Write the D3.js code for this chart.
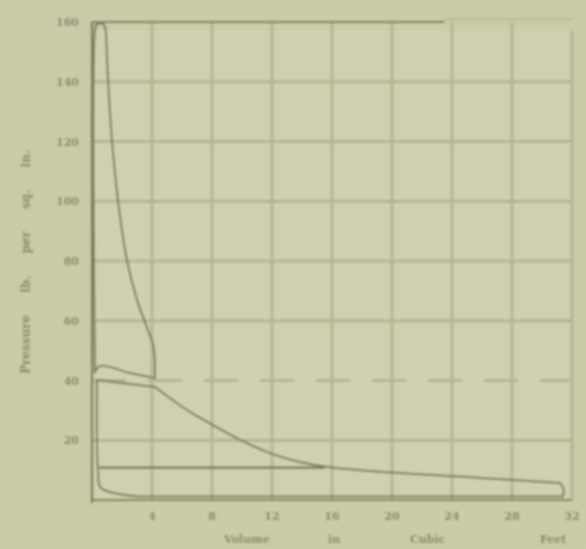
<!DOCTYPE html>
<html>
<head>
<meta charset="utf-8">
<script src="https://cdn.jsdelivr.net/npm/d3@7"></script>
<style>
  html, body { margin: 0; padding: 0; background: #cdcdab; }
  svg { display: block; }
</style>
</head>
<body>
<svg id="chart" width="586" height="549"></svg>
<script>
// Combined indicator card: high- and low-pressure cylinders
const pressureTicks = [20, 40, 60, 80, 100, 120, 140, 160];
const volumeTicks = [4, 8, 12, 16, 20, 24, 28, 32];

// High-pressure cylinder card (volume cu. ft, pressure lb/sq in)
const hpVolume   = [0.2, 0.2, 0.33, 0.73, 0.93, 1.07, 1.33, 1.73, 2.33, 3.0, 3.73, 4.07, 4.2, 4.2, 2.53, 0.53, 0.2];
const hpPressure = [42.8, 157, 159.3, 159.3, 157, 140.6, 120.5, 100.4, 80.3, 67, 56.9, 51.9, 46.9, 40.8, 42.5, 44.9, 42.8];
// corners where the card's line changes direction sharply
const hpCorners = [0, 4, 12, 13, 16];

// Low-pressure cylinder card
const lpVolume   = [0.33, 4.2, 5.2, 6.53, 8.07, 9.87, 11.87, 13.87, 15.87, 20.5, 25.9, 31.2, 31.45, 31.4, 20, 10, 3.0, 0.6, 0.4, 0.33];
const lpPressure = [40.2, 37.8, 34.1, 29.5, 25.1, 20.1, 15.7, 12.7, 11.0, 9.0, 7.4, 5.7, 3.4, 1.2, 1.2, 1.2, 1.2, 4.0, 10, 40.2];
const lpCorners = [0, 1, 11, 13, 16, 19];

// Atmospheric line
const atmVolume   = [0.5, 15.5];
const atmPressure = [10.8, 10.8];

const svg = d3.select("#chart");
const x = d3.scaleLinear().domain([0, 32]).range([92, 572]);
const y = d3.scaleLinear().domain([0, 160]).range([500, 22]);

const ink = "#7a7a5c";
const gridInk = "#b5b591";
const textInk = "#86866a";

svg.append("defs").append("filter").attr("id", "soft")
  .append("feGaussianBlur").attr("stdDeviation", 1.2);

const paper = svg.append("g").attr("filter", "url(#soft)");

paper.append("rect").attr("width", 586).attr("height", 549).attr("fill", "#cbcba8");
paper.append("rect").attr("x", 90).attr("y", 30).attr("width", 480).attr("height", 470)
  .attr("fill", "#d6d6b7").attr("opacity", 0.55);

// Grid
const grid = paper.append("g");
grid.selectAll("line.v").data(volumeTicks.slice(0, -1)).join("line")
  .attr("x1", d => x(d)).attr("x2", d => x(d))
  .attr("y1", y(160)).attr("y2", y(0))
  .attr("stroke", gridInk).attr("stroke-width", 3);
grid.selectAll("line.h").data(pressureTicks.slice(0, -1)).join("line")
  .attr("x1", x(0)).attr("x2", x(32))
  .attr("y1", d => y(d)).attr("y2", d => y(d))
  .attr("stroke", gridInk).attr("stroke-width", 3)
  .attr("stroke-dasharray", d => d === 40 ? "34 22" : null);

// Frame
paper.append("line").attr("x1", x(0)).attr("x2", x(23.5)).attr("y1", y(160)).attr("y2", y(160))
  .attr("stroke", ink).attr("stroke-width", 2);
paper.append("line").attr("x1", x(23.5)).attr("x2", x(32)).attr("y1", y(161)).attr("y2", y(161))
  .attr("stroke", gridInk).attr("stroke-width", 1.5);
paper.append("line").attr("x1", x(32)).attr("x2", x(32)).attr("y1", y(157)).attr("y2", y(0))
  .attr("stroke", gridInk).attr("stroke-width", 3);
paper.append("line").attr("x1", x(0)).attr("x2", x(0)).attr("y1", y(160)).attr("y2", y(-1))
  .attr("stroke", ink).attr("stroke-width", 2.4);
paper.append("line").attr("x1", x(0)).attr("x2", x(32)).attr("y1", y(0)).attr("y2", y(0))
  .attr("stroke", ink).attr("stroke-width", 2.2);

// Cards, drawn piecewise so corners stay sharp
const line = d3.line()
  .x(d => x(d[0])).y(d => y(d[1]))
  .curve(d3.curveCatmullRom.alpha(0.5));

function drawCard(vols, press, corners, width) {
  const pts = d3.zip(vols, press);
  for (let i = 0; i < corners.length - 1; i++) {
    const seg = pts.slice(corners[i], corners[i + 1] + 1);
    paper.append("path").attr("d", line(seg)).attr("fill", "none")
      .attr("stroke", ink).attr("stroke-width", width)
      .attr("stroke-linejoin", "round").attr("stroke-linecap", "round");
  }
}
drawCard(hpVolume, hpPressure, hpCorners, 2);
drawCard(lpVolume, lpPressure, lpCorners, 2);

paper.append("path")
  .attr("d", d3.line().x(d => x(d[0])).y(d => y(d[1]))(d3.zip(atmVolume, atmPressure)))
  .attr("fill", "none").attr("stroke", ink).attr("stroke-width", 2.6);

// Axis labels
paper.append("g").selectAll("text").data(pressureTicks).join("text")
  .attr("x", 79).attr("y", d => y(d) + 4)
  .attr("text-anchor", "end")
  .attr("font-family", "DejaVu Serif, serif").attr("font-size", 11).attr("font-weight", "bold")
  .attr("fill", textInk)
  .text(d => d);

paper.append("g").selectAll("text").data(volumeTicks).join("text")
  .attr("x", d => x(d)).attr("y", 520)
  .attr("text-anchor", "middle")
  .attr("font-family", "DejaVu Serif, serif").attr("font-size", 11).attr("font-weight", "bold")
  .attr("fill", textInk)
  .text(d => d);

paper.append("text")
  .attr("transform", "translate(30,262) rotate(-90)")
  .attr("text-anchor", "middle")
  .attr("font-family", "DejaVu Serif, serif").attr("font-size", 12).attr("font-weight", "bold")
  .attr("fill", textInk)
  .attr("word-spacing", 18)
  .text("Pressure lb. per sq. in.");

const xTitle = paper.append("text")
  .attr("y", 543)
  .attr("font-family", "DejaVu Serif, serif").attr("font-size", 11).attr("font-weight", "bold")
  .attr("fill", textInk);
const titleWords = ["Volume", "in", "Cubic", "Feet"];
const titleAt = [224, 328, 410, 540];
xTitle.selectAll("tspan").data(titleWords).join("tspan")
  .attr("x", (d, i) => titleAt[i])
  .text(d => d);
</script>
</body>
</html>
